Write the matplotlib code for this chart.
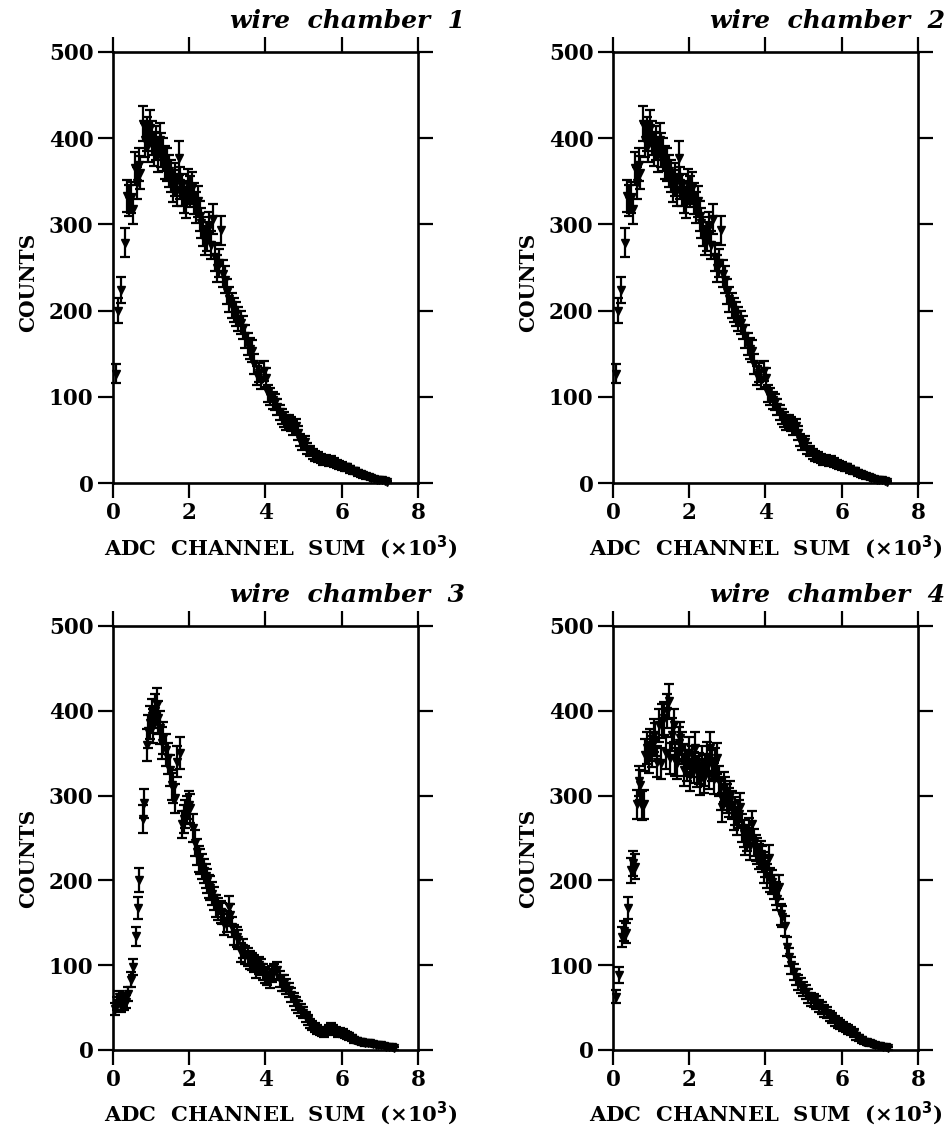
import numpy as np
import matplotlib
matplotlib.use("Agg")
import matplotlib.pyplot as plt

# ---------------- data (ADC channel sum in units of 10^3, counts) ----------------
adc_wc1 = [0.09, 0.14, 0.21, 0.31, 0.38, 0.43, 0.47, 0.52, 0.57, 0.62, 0.67, 0.72, 0.79, 0.84, 0.88,
           0.93, 0.97, 1.02, 1.07, 1.12, 1.17, 1.22, 1.27, 1.32, 1.37, 1.42, 1.47, 1.52, 1.57, 1.62,
           1.67, 1.72, 1.77, 1.82, 1.87, 1.92, 1.97, 2.02, 2.07, 2.12, 2.17, 2.22, 2.27, 2.32, 2.37,
           2.42, 2.47, 2.52, 2.57, 2.62, 2.67, 2.72, 2.77, 2.84, 2.89, 2.94, 2.99, 3.05, 3.11, 3.17,
           3.23, 3.29, 3.35, 3.41, 3.47, 3.53, 3.59, 3.65, 3.71, 3.77, 3.83, 3.89, 3.95, 4.01, 4.07,
           4.13, 4.19, 4.25, 4.31, 4.37, 4.43, 4.49, 4.55, 4.61, 4.67, 4.73, 4.79, 4.85, 4.91, 4.97,
           5.03, 5.10, 5.17, 5.24, 5.31, 5.38, 5.45, 5.52, 5.59, 5.66, 5.73, 5.80, 5.87, 5.94, 6.01,
           6.08, 6.15, 6.22, 6.29, 6.36, 6.43, 6.50, 6.57, 6.64, 6.71, 6.78, 6.85, 6.92, 6.99, 7.06,
           7.13, 7.20]
counts_wc1 = [127, 200, 224, 279, 333, 328, 331, 318, 365, 348, 369, 360, 417, 398, 405,
              392, 412, 400, 388, 394, 380, 398, 386, 381, 372, 369, 362, 356, 344, 352,
              340, 377, 348, 340, 332, 325, 346, 338, 342, 330, 320, 327, 310, 302, 292,
              281, 286, 297, 276, 306, 262, 249, 255, 293, 243, 236, 222, 213, 206, 201,
              196, 190, 186, 180, 170, 161, 156, 153, 138, 125, 128, 120, 130, 122, 104,
              100, 96, 94, 88, 82, 77, 74, 70, 71, 68, 64, 66, 58, 50, 45,
              48, 40, 37, 34, 31, 30, 28, 26, 27, 25, 26, 24, 22, 21, 20,
              18, 18, 16, 14, 14, 12, 10, 9, 8, 7, 6, 5, 4, 4, 3,
              2, 1]

# chamber 2 shows the same distribution as chamber 1
adc_wc2 = list(adc_wc1)
counts_wc2 = list(counts_wc1)

adc_wc3 = [0.05, 0.10, 0.15, 0.20, 0.25, 0.30, 0.35, 0.40, 0.47, 0.53, 0.60, 0.65, 0.69, 0.78, 0.82,
           0.88, 0.93, 0.97, 1.01, 1.05, 1.10, 1.15, 1.19, 1.23, 1.28, 1.32, 1.39, 1.45, 1.50, 1.54,
           1.58, 1.63, 1.69, 1.76, 1.81, 1.86, 1.90, 1.95, 1.99, 2.03, 2.10, 2.15, 2.20, 2.25, 2.29,
           2.34, 2.38, 2.43, 2.47, 2.51, 2.55, 2.60, 2.64, 2.70, 2.76, 2.82, 2.87, 2.92, 2.98, 3.03,
           3.08, 3.13, 3.18, 3.24, 3.29, 3.35, 3.41, 3.47, 3.53, 3.59, 3.65, 3.70, 3.76, 3.82, 3.87,
           3.93, 3.99, 4.05, 4.11, 4.17, 4.23, 4.31, 4.37, 4.43, 4.49, 4.55, 4.62, 4.68, 4.74, 4.80,
           4.86, 4.92, 4.98, 5.05, 5.11, 5.17, 5.23, 5.30, 5.36, 5.42, 5.48, 5.54, 5.60, 5.66, 5.72,
           5.78, 5.84, 5.90, 5.96, 6.02, 6.08, 6.14, 6.20, 6.26, 6.33, 6.40, 6.47, 6.54, 6.61, 6.68,
           6.75, 6.82, 6.89, 6.96, 7.03, 7.10, 7.17, 7.24, 7.31, 7.38]
counts_wc3 = [48, 55, 62, 52, 60, 55, 57, 66, 83, 98, 134, 167, 201, 272, 291,
              360, 376, 386, 394, 382, 400, 407, 392, 380, 362, 368, 354, 344, 330, 313,
              309, 297, 340, 350, 266, 272, 278, 283, 289, 285, 262, 244, 234, 225, 222,
              216, 211, 205, 199, 193, 191, 184, 179, 170, 166, 163, 161, 148, 152, 169,
              159, 145, 136, 133, 130, 115, 120, 112, 110, 106, 104, 102, 95, 100, 98,
              92, 88, 86, 82, 90, 92, 94, 84, 79, 79, 75, 71, 65, 60, 55,
              51, 47, 44, 39, 35, 31, 29, 27, 24, 22, 21, 20, 22, 25, 27,
              24, 22, 20, 21, 20, 18, 17, 16, 14, 12, 11, 10, 9, 8, 8,
              8, 7, 6, 6, 6, 5, 4, 4, 3, 2]

adc_wc4 = [0.08, 0.17, 0.24, 0.29, 0.34, 0.40, 0.47, 0.52, 0.57, 0.63, 0.67, 0.72, 0.77, 0.81, 0.85,
           0.89, 0.94, 0.98, 1.03, 1.07, 1.11, 1.16, 1.20, 1.25, 1.29, 1.33, 1.38, 1.42, 1.46, 1.50,
           1.55, 1.59, 1.63, 1.68, 1.72, 1.77, 1.81, 1.86, 1.90, 1.94, 1.99, 2.03, 2.07, 2.12, 2.16,
           2.20, 2.25, 2.29, 2.33, 2.38, 2.42, 2.47, 2.51, 2.55, 2.60, 2.64, 2.68, 2.73, 2.77, 2.82,
           2.86, 2.90, 2.95, 2.99, 3.04, 3.08, 3.12, 3.17, 3.21, 3.25, 3.30, 3.34, 3.38, 3.43, 3.47,
           3.52, 3.56, 3.60, 3.65, 3.69, 3.74, 3.78, 3.82, 3.87, 3.91, 3.96, 4.00, 4.04, 4.09, 4.13,
           4.18, 4.22, 4.27, 4.31, 4.35, 4.40, 4.44, 4.50, 4.56, 4.62, 4.68, 4.74, 4.80, 4.86, 4.92,
           4.98, 5.05, 5.12, 5.19, 5.26, 5.33, 5.40, 5.47, 5.54, 5.61, 5.68, 5.75, 5.82, 5.89, 5.96,
           6.03, 6.10, 6.17, 6.24, 6.31, 6.38, 6.45, 6.52, 6.59, 6.66, 6.73, 6.80, 6.87, 6.94, 7.01,
           7.08, 7.15, 7.22]
counts_wc4 = [63, 88, 133, 140, 138, 168, 212, 220, 216, 290, 317, 313, 288, 290, 348,
              356, 345, 360, 352, 371, 366, 340, 383, 338, 388, 391, 350, 400, 411, 344,
              372, 383, 342, 338, 362, 368, 356, 330, 342, 336, 350, 324, 340, 333, 356,
              328, 332, 318, 340, 321, 330, 345, 326, 356, 336, 320, 338, 344, 317, 300,
              286, 310, 305, 297, 292, 300, 289, 276, 282, 270, 278, 286, 262, 255, 246,
              250, 258, 240, 266, 245, 238, 235, 228, 231, 225, 212, 219, 205, 227, 200,
              198, 192, 185, 178, 192, 160, 157, 146, 122, 110, 100, 92, 86, 80, 76,
              72, 68, 64, 60, 58, 56, 52, 50, 46, 44, 40, 38, 34, 32, 30,
              28, 26, 24, 22, 20, 16, 14, 12, 10, 9, 8, 7, 6, 5, 5,
              4, 3, 2]

titles = ["wire  chamber  1", "wire  chamber  2", "wire  chamber  3", "wire  chamber  4"]
x_ticks = [0, 2, 4, 6, 8]
y_ticks = [0, 100, 200, 300, 400, 500]

# ---------------- styling ----------------
plt.rcParams["font.family"] = ["DejaVu Serif"]
plt.rcParams["font.weight"] = "bold"

W, H = 953, 1134
fig = plt.figure(figsize=(W / 100, H / 100), dpi=100)

# axes boxes in pixels: left, top, right, bottom
boxes = [(113, 52, 418, 483), (613, 52, 918, 483),
         (113, 626, 418, 1050), (613, 626, 918, 1050)]
data = [(adc_wc1, counts_wc1), (adc_wc2, counts_wc2),
        (adc_wc3, counts_wc3), (adc_wc4, counts_wc4)]

for i, ((l, t, r, b), (xs, ys), title) in enumerate(zip(boxes, data, titles)):
    ax = fig.add_axes([l / W, 1 - b / H, (r - l) / W, (b - t) / H])
    xs = np.asarray(xs, float)
    ys = np.asarray(ys, float)
    ax.errorbar(xs, ys, yerr=np.sqrt(ys), fmt="v", ms=5.5, color="black",
                ecolor="black", elinewidth=1.6, capsize=3.8, capthick=1.6,
                clip_on=False)
    ax.set_xlim(0, 8)
    ax.set_ylim(0, 500)
    ax.set_xticks(x_ticks)
    ax.set_yticks(y_ticks)
    ax.set_xticklabels([str(v) for v in x_ticks], fontsize=15.5, fontweight="bold")
    ax.set_yticklabels([str(v) for v in y_ticks], fontsize=15.5, fontweight="bold")
    ax.tick_params(direction="out", length=11, width=1.6, top=True, right=True,
                   labeltop=False, labelright=False, pad=3)
    for sp in ax.spines.values():
        sp.set_linewidth(1.9)

    right_col = (i % 2 == 1)
    tx = 1.09 if right_col else 1.155
    ax.text(tx, 1.045, title, transform=ax.transAxes, ha="right", va="bottom",
            fontsize=18, fontweight="bold", fontstyle="italic")
    ax.text(0.55 if not right_col else 0.50, -0.148,
            "ADC  CHANNEL  SUM  (×10$^{\\mathbf{3}}$)",
            transform=ax.transAxes, ha="center", va="center",
            fontsize=15.2, fontweight="bold")
    ax.text(-85 / 305, 0.466 if i < 2 else 0.453, "COUNTS", rotation=90,
            transform=ax.transAxes, ha="center", va="center",
            fontsize=14.5, fontweight="bold")

fig.savefig("out.png", dpi=100, facecolor="white")
